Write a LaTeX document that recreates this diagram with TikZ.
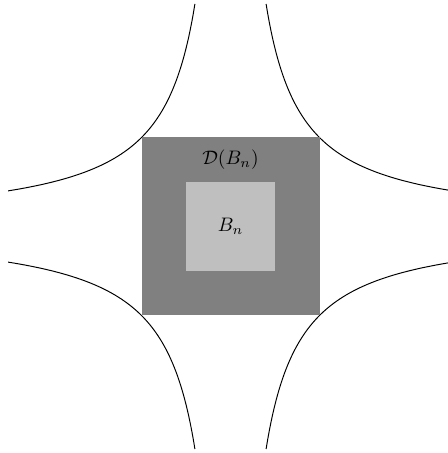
\documentclass[tikz,border=0pt]{standalone}
\begin{document}
\begin{tikzpicture}[x=1.6cm,y=1.6cm,
  curve/.style={black, line width=0.5pt},
  outerbox/.style={fill=black!50, draw=none, minimum size=3.2cm, inner sep=0pt, outer sep=0pt},
  innerbox/.style={fill=black!25, draw=none, minimum size=1.6cm, inner sep=0pt, outer sep=0pt}]
\useasboundingbox (-2.59,-2.545) rectangle (2.44,2.545);
\draw[curve] plot[domain=0.4:2.5, samples=120, smooth] (\x,{1/\x});
\draw[curve] plot[domain=0.4:2.5, samples=120, smooth] (-\x,{1/\x});
\draw[curve] plot[domain=0.4:2.5, samples=120, smooth] (\x,{-1/\x});
\draw[curve] plot[domain=0.4:2.5, samples=120, smooth] (-\x,{-1/\x});
\node[outerbox] (D) at (0,0) {};
\node[innerbox] (B) at (0,0) {};
\node (Dlabel) at (0,0.75) {$\mathcal{D}(B_n)$};
\node (Blabel) at (0,0) {$B_n$};
\end{tikzpicture}
\end{document}
